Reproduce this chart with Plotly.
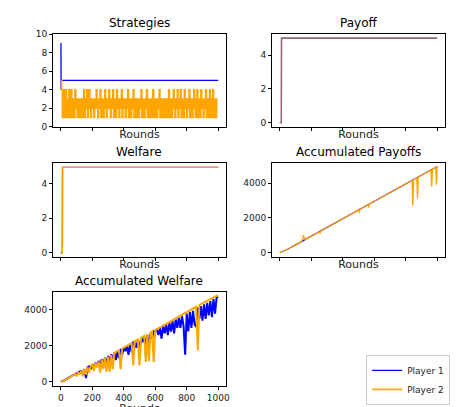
import plotly.graph_objects as go

# ---- data ----
rounds_10 = list(range(0, 1001, 10))
rounds_5 = list(range(0, 1000, 5))

strat_p1_x = [0, 1, 2, 3, 4, 1000]
strat_p1 = [9, 9, 4, 5, 5, 5]
strat_p2 = [5, 4, 1, 4, 2, 1, 4, 3, 1, 2, 4, 1, 3, 4, 1, 2, 3, 1, 4, 2,
            3, 1, 2, 3, 1, 3, 2, 1, 3, 4, 1, 3, 2, 4, 1, 3, 4, 2, 1, 3,
            2, 3, 1, 2, 3, 4, 2, 1, 3, 2, 4, 1, 3, 2, 1, 3, 4, 2, 1, 3,
            2, 4, 3, 1, 2, 3, 4, 1, 3, 2, 1, 4, 3, 2, 1, 3, 2, 4, 1, 3,
            3, 2, 1, 3, 2, 4, 1, 2, 3, 1, 3, 2, 4, 1, 3, 2, 1, 3, 2, 1,
            3, 2, 4, 1, 3, 2, 1, 3, 2, 4, 1, 2, 3, 1, 3, 2, 1, 4, 3, 1,
            2, 3, 1, 2, 3, 4, 1, 3, 2, 1, 3, 2, 1, 3, 2, 1, 3, 4, 1, 2,
            3, 1, 2, 4, 3, 1, 2, 3, 4, 1, 3, 2, 4, 1, 3, 2, 1, 4, 3, 2,
            1, 3, 2, 4, 1, 2, 3, 1, 3, 4, 2, 1, 3, 4, 1, 2, 3, 1, 4, 2,
            3, 1, 2, 3, 4, 1, 3, 2, 1, 4, 3, 1, 2, 4, 1, 3, 2, 1, 3, 3]

payoff_x = [0, 10, 11, 1000]
payoff_p1 = [0, 0, 5, 5]
payoff_p2 = [0, 0, 5, 5]
welfare = [0, 0, 4.95, 4.95]

acc_pay_x = [0, 50, 100, 140, 150, 160, 200, 250, 255, 260, 300, 400, 500, 505, 510,
             560, 565, 570, 600, 700, 800, 840, 845, 850, 870, 875, 880, 900, 960,
             965, 970, 990, 995, 1000]
acc_pay_p1 = [0, 200, 450, 650, 700, 750, 950, 1200, 1220, 1250, 1450, 1950, 2450, 2470, 2500,
              2750, 2770, 2800, 2950, 3450, 3950, 4150, 4170, 4200, 4300, 4320, 4350, 4450, 4750,
              4770, 4800, 4900, 4920, 4950]
acc_pay_p2 = [0, 200, 450, 650, 1000, 750, 950, 1200, 1100, 1250, 1450, 1950, 2450, 2300, 2500,
              2750, 2600, 2800, 2950, 3450, 3950, 4150, 2700, 4200, 4300, 3100, 4350, 4450, 4750,
              3800, 4800, 4900, 3900, 4950]

acc_wel_p1 = [0, 20, 60, 110, 170, 220, 260, 320, 370, 400, 460, 500, 560, 590, 400, 700, 200,
              800, 850, 700, 950, 800, 1050, 900, 1150, 1000, 1240, 900, 1340, 1000, 1440, 1100,
              1530, 1250, 1620, 1200, 1720, 1300, 1820, 1500, 1900, 1700, 2000, 1500, 2100, 1650,
              2200, 2150, 1900, 2330, 1700, 2430, 2200, 2520, 2000, 2600, 2100, 2700, 2400, 2800,
              2850, 2900, 2600, 3000, 2400, 3100, 2700, 3200, 2600, 3280, 2800, 3380, 2700, 3470,
              3000, 3570, 3000, 3650, 3100, 1500, 3800, 2800, 3900, 3000, 3950, 3200, 3050, 4130,
              3500, 4220, 3400, 4320, 3500, 4400, 3700, 4500, 3600, 4620, 3800, 4700, 4750]
acc_wel_p2 = [0, 30, 60, 100, 150, 200, 260, 300, 350, 420, 300, 520, 400, 600, 300, 700, 400,
              800, 500, 880, 950, 600, 1030, 800, 1130, 500, 1220, 700, 1320, 550, 1400, 550,
              1500, 700, 1600, 1650, 1700, 1750, 700, 1850, 1900, 1950, 2000, 2050, 2100, 2150,
              900, 2250, 2300, 2350, 900, 2450, 2500, 2550, 1100, 2650, 1150, 2750, 2800, 1100,
              2880, 2930, 2980, 3030, 3080, 3130, 3180, 3230, 3280, 3330, 3380, 3430, 3480, 3530,
              3580, 3630, 3680, 3730, 3780, 3830, 3880, 3930, 3980, 4030, 4080, 4130, 4180, 1750,
              4280, 4330, 4380, 4430, 4480, 4530, 4580, 4630, 4680, 4720, 4760, 4790, 4800]

BLUE = "#0000ff"
ORANGE = "#ffa500"
FONT = "DejaVu Sans"

fig = go.Figure()

# panel domains in paper coords (x0, x1, y0, y1)
panels = {
    1: (0.097, 0.471, 0.708, 0.936),
    2: (0.570, 0.944, 0.708, 0.936),
    3: (0.097, 0.471, 0.388, 0.619),
    4: (0.570, 0.944, 0.388, 0.619),
    5: (0.097, 0.471, 0.071, 0.302),
}
titles = {1: "Strategies", 2: "Payoff", 3: "Welfare",
          4: "Accumulated Payoffs", 5: "Accumulated Welfare"}
yranges = {1: [0, 10], 2: [-0.25, 5.25], 3: [-0.25, 5.2],
           4: [-250, 5150], 5: [-250, 5000]}
yticks = {1: [0, 2, 4, 6, 8, 10], 2: [0, 2, 4], 3: [0, 2, 4],
          4: [0, 2000, 4000], 5: [0, 2000, 4000]}


def add(i, x, y, color, name, shape="linear", legend=False, width=1.3):
    sfx = "" if i == 1 else str(i)
    fig.add_trace(go.Scatter(x=x, y=y, mode="lines", name=name, showlegend=legend,
                             line=dict(color=color, width=width, shape=shape),
                             xaxis="x" + sfx, yaxis="y" + sfx))


add(1, strat_p1_x, strat_p1, BLUE, "Player 1", legend=True)
add(1, rounds_5, strat_p2, ORANGE, "Player 2", shape="hv", legend=True, width=1.6)
add(2, payoff_x, payoff_p1, BLUE, "Player 1")
add(2, payoff_x, payoff_p2, "rgba(255,165,0,0.6)", "Player 2")
add(3, payoff_x, welfare, BLUE, "Player 1")
add(3, payoff_x, welfare, ORANGE, "Player 2")
add(4, acc_pay_x, acc_pay_p1, BLUE, "Player 1")
add(4, acc_pay_x, acc_pay_p2, ORANGE, "Player 2")
add(5, rounds_10, acc_wel_p1, BLUE, "Player 1", width=2)
add(5, rounds_10, acc_wel_p2, ORANGE, "Player 2", width=2)

layout = {}
annotations = []
for i, (x0, x1, y0, y1) in panels.items():
    sfx = "" if i == 1 else str(i)
    ax = dict(showline=True, mirror=True, linecolor="black", linewidth=1, automargin=False,
              ticks="outside", ticklen=3, tickcolor="black", showgrid=False, zeroline=False)
    layout["xaxis" + sfx] = dict(ax, domain=[x0, x1], anchor="y" + sfx, range=[-50, 1050],
                                 tickvals=[0, 200, 400, 600, 800, 1000],
                                 showticklabels=(i == 5),
                                 title=dict(text="Rounds", standoff=0))
    layout["yaxis" + sfx] = dict(ax, domain=[y0, y1], anchor="x" + sfx,
                                 range=yranges[i], tickvals=yticks[i])
    annotations.append(dict(text=titles[i], x=(x0 + x1) / 2, y=y1 + 0.005, xref="paper", yref="paper",
                            xanchor="center", yanchor="bottom", showarrow=False,
                            font=dict(size=12, color="black")))

fig.update_layout(**layout)
fig.update_layout(
    width=463, height=407, margin=dict(l=0, r=0, t=0, b=0, autoexpand=False),
    paper_bgcolor="white", plot_bgcolor="white",
    font=dict(family=FONT, size=9, color="#222"),
    annotations=annotations,
    legend=dict(x=0.955, y=0.025, xanchor="right", yanchor="bottom",
                bordercolor="#ccc", borderwidth=1, font=dict(size=9),
                tracegroupgap=0, itemwidth=30),
)

fig.write_html("out.html")
